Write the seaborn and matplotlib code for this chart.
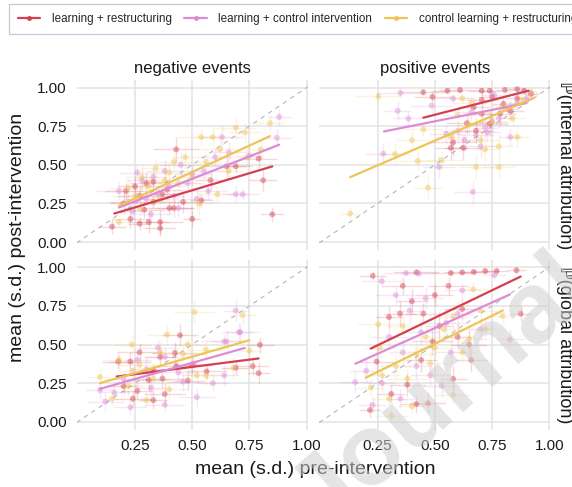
import matplotlib
matplotlib.use("Agg")
import matplotlib.pyplot as plt
from matplotlib.lines import Line2D
import pandas as pd
import seaborn as sns

groups = ["learning + restructuring", "learning + control intervention",
          "control learning + restructuring"]
colours = ["#d43f51", "#dd8bd4", "#eec454"]
events = ["negative events", "positive events"]
outcomes = ["\u2119(internal attribution)", "\u2119(global attribution)"]
x_ticks = [0.25, 0.5, 0.75, 1.0]
x_tick_labels = ["0.25", "0.50", "0.75", "1.00"]
y_ticks = [0.0, 0.25, 0.5, 0.75, 1.0]
y_tick_labels = ["0.00", "0.25", "0.50", "0.75", "1.00"]

# negative events, internal attribution
ni_lr_x = [0.15, 0.23, 0.27, 0.31, 0.36, 0.36, 0.50, 0.42, 0.40, 0.30, 0.33, 0.21, 0.46, 0.54,
           0.58, 0.43, 0.81, 0.85, 0.79, 0.69, 0.65, 0.37, 0.27, 0.25, 0.33, 0.39, 0.29, 0.20]
ni_lr_y = [0.10, 0.15, 0.12, 0.13, 0.09, 0.13, 0.15, 0.22, 0.22, 0.38, 0.39, 0.33, 0.26, 0.27,
           0.40, 0.60, 0.40, 0.18, 0.54, 0.49, 0.49, 0.31, 0.30, 0.36, 0.26, 0.34, 0.21, 0.25]
ni_lr_xsd = [0.06, 0.08, 0.05, 0.09, 0.07, 0.10, 0.04, 0.08, 0.11, 0.07, 0.06, 0.09, 0.08, 0.05,
             0.07, 0.10, 0.06, 0.05, 0.08, 0.07, 0.09, 0.06, 0.10, 0.08, 0.05, 0.07, 0.09, 0.06]
ni_lr_ysd = [0.05, 0.06, 0.04, 0.07, 0.05, 0.08, 0.05, 0.06, 0.04, 0.07, 0.06, 0.05, 0.07, 0.04,
             0.06, 0.08, 0.07, 0.05, 0.06, 0.04, 0.08, 0.05, 0.06, 0.07, 0.04, 0.06, 0.05, 0.07]
ni_lc_x = [0.18, 0.26, 0.72, 0.69, 0.63, 0.88, 0.87, 0.22, 0.28, 0.30, 0.33, 0.35, 0.38, 0.40,
           0.42, 0.45, 0.48, 0.50, 0.52, 0.55, 0.60, 0.66, 0.24, 0.32, 0.44, 0.57, 0.75]
ni_lc_y = [0.33, 0.45, 0.31, 0.31, 0.68, 0.81, 0.675, 0.26, 0.40, 0.28, 0.42, 0.31, 0.46, 0.36,
           0.30, 0.50, 0.38, 0.44, 0.28, 0.46, 0.55, 0.58, 0.20, 0.18, 0.22, 0.33, 0.56]
ni_lc_xsd = [0.10, 0.08, 0.07, 0.06, 0.09, 0.05, 0.06, 0.08, 0.07, 0.10, 0.06, 0.09, 0.08, 0.07,
             0.05, 0.09, 0.07, 0.08, 0.06, 0.10, 0.07, 0.08, 0.06, 0.09, 0.07, 0.08, 0.06]
ni_lc_ysd = [0.06, 0.05, 0.04, 0.06, 0.07, 0.05, 0.06, 0.05, 0.07, 0.04, 0.06, 0.05, 0.07, 0.06,
             0.04, 0.08, 0.05, 0.06, 0.07, 0.05, 0.06, 0.07, 0.05, 0.04, 0.06, 0.05, 0.07]
ni_cr_x = [0.84, 0.69, 0.73, 0.54, 0.59, 0.42, 0.18, 0.61, 0.53, 0.22, 0.25, 0.28, 0.31, 0.34,
           0.36, 0.38, 0.40, 0.44, 0.47, 0.50, 0.56, 0.62, 0.66, 0.74, 0.80, 0.27, 0.33]
ni_cr_y = [0.77, 0.74, 0.71, 0.68, 0.68, 0.52, 0.13, 0.31, 0.25, 0.35, 0.30, 0.42, 0.36, 0.48,
           0.28, 0.40, 0.45, 0.38, 0.55, 0.42, 0.52, 0.60, 0.46, 0.55, 0.60, 0.22, 0.26]
ni_cr_xsd = [0.06, 0.09, 0.07, 0.10, 0.08, 0.07, 0.05, 0.09, 0.06, 0.08, 0.10, 0.07, 0.09, 0.06,
             0.08, 0.11, 0.07, 0.09, 0.06, 0.08, 0.07, 0.09, 0.06, 0.08, 0.05, 0.07, 0.09]
ni_cr_ysd = [0.05, 0.07, 0.06, 0.05, 0.07, 0.06, 0.04, 0.05, 0.07, 0.06, 0.05, 0.07, 0.04, 0.06,
             0.05, 0.07, 0.06, 0.05, 0.08, 0.06, 0.05, 0.07, 0.06, 0.05, 0.06, 0.05, 0.04]

# positive events, internal attribution
pi_lr_x = [0.45, 0.49, 0.555, 0.61, 0.705, 0.74, 0.806, 0.86, 0.89, 0.705, 0.75, 0.80, 0.83,
           0.785, 0.74, 0.64, 0.58, 0.57, 0.625, 0.705, 0.86, 0.67, 0.92, 0.68]
pi_lr_y = [0.97, 0.94, 0.98, 0.985, 0.98, 0.98, 0.985, 0.99, 0.98, 0.92, 0.94, 0.895, 0.85,
           0.83, 0.766, 0.77, 0.645, 0.61, 0.61, 0.83, 0.93, 0.873, 0.96, 0.72]
pi_lr_xsd = [0.10, 0.08, 0.07, 0.09, 0.06, 0.05, 0.04, 0.04, 0.03, 0.07, 0.06, 0.05, 0.06, 0.07,
             0.08, 0.09, 0.10, 0.07, 0.08, 0.06, 0.05, 0.07, 0.03, 0.08]
pi_lr_ysd = [0.02, 0.03, 0.02, 0.02, 0.02, 0.02, 0.02, 0.01, 0.02, 0.04, 0.03, 0.05, 0.06, 0.07,
             0.08, 0.07, 0.09, 0.08, 0.07, 0.06, 0.04, 0.05, 0.03, 0.08]
pi_lc_x = [0.275, 0.35, 0.338, 0.385, 0.486, 0.518, 0.666, 0.60, 0.63, 0.68, 0.72, 0.75, 0.78,
           0.82, 0.86, 0.90, 0.70, 0.66, 0.58, 0.76, 0.92, 0.55, 0.83, 0.73]
pi_lc_y = [0.572, 0.966, 0.85, 0.80, 0.884, 0.486, 0.325, 0.72, 0.66, 0.69, 0.74, 0.78, 0.80,
           0.86, 0.90, 0.93, 0.62, 0.84, 0.93, 0.95, 0.96, 0.70, 0.68, 0.71]
pi_lc_xsd = [0.08, 0.10, 0.06, 0.07, 0.09, 0.07, 0.08, 0.07, 0.06, 0.08, 0.05, 0.07, 0.06, 0.05,
             0.04, 0.04, 0.07, 0.08, 0.09, 0.06, 0.03, 0.07, 0.05, 0.06]
pi_lc_ysd = [0.07, 0.03, 0.06, 0.05, 0.05, 0.07, 0.08, 0.06, 0.07, 0.05, 0.06, 0.05, 0.06, 0.04,
             0.04, 0.03, 0.07, 0.05, 0.03, 0.03, 0.02, 0.06, 0.05, 0.06]
pi_cr_x = [0.13, 0.253, 0.326, 0.425, 0.47, 0.68, 0.78, 0.53, 0.60, 0.65, 0.70, 0.72, 0.75,
           0.78, 0.80, 0.84, 0.88, 0.92, 0.66, 0.57, 0.62, 0.86, 0.45, 0.40]
pi_cr_y = [0.185, 0.944, 0.57, 0.525, 0.353, 0.486, 0.486, 0.53, 0.82, 0.76, 0.66, 0.60, 0.78,
           0.62, 0.88, 0.80, 0.92, 0.97, 0.90, 0.68, 0.93, 0.68, 0.73, 0.66]
pi_cr_xsd = [0.05, 0.10, 0.07, 0.09, 0.06, 0.08, 0.07, 0.10, 0.07, 0.06, 0.08, 0.05, 0.07, 0.06,
             0.05, 0.06, 0.04, 0.03, 0.08, 0.07, 0.06, 0.05, 0.08, 0.07]
pi_cr_ysd = [0.04, 0.03, 0.07, 0.06, 0.07, 0.08, 0.07, 0.06, 0.05, 0.06, 0.07, 0.08, 0.05, 0.07,
             0.04, 0.05, 0.03, 0.02, 0.04, 0.06, 0.03, 0.07, 0.05, 0.06]

# negative events, global attribution
ng_lr_x = [0.177, 0.23, 0.447, 0.796, 0.764, 0.79, 0.563, 0.50, 0.425, 0.36, 0.33, 0.37, 0.31,
           0.26, 0.33, 0.24, 0.38, 0.48, 0.20, 0.43, 0.27, 0.69]
ng_lr_y = [0.39, 0.39, 0.56, 0.498, 0.36, 0.315, 0.326, 0.37, 0.446, 0.42, 0.337, 0.28, 0.27,
           0.20, 0.14, 0.15, 0.18, 0.267, 0.23, 0.36, 0.45, 0.35]
ng_lr_xsd = [0.07, 0.09, 0.08, 0.06, 0.07, 0.05, 0.09, 0.08, 0.10, 0.07, 0.06, 0.09, 0.08, 0.07,
             0.06, 0.08, 0.09, 0.07, 0.06, 0.08, 0.10, 0.06]
ng_lr_ysd = [0.05, 0.06, 0.07, 0.05, 0.06, 0.07, 0.05, 0.06, 0.07, 0.05, 0.04, 0.06, 0.07, 0.05,
             0.06, 0.05, 0.07, 0.06, 0.05, 0.04, 0.06, 0.05]
ng_lc_x = [0.097, 0.12, 0.23, 0.38, 0.52, 0.59, 0.64, 0.71, 0.64, 0.65, 0.44, 0.51, 0.30, 0.26,
           0.35, 0.38, 0.16, 0.32, 0.69, 0.705, 0.20, 0.46]
ng_lc_y = [0.207, 0.13, 0.094, 0.11, 0.16, 0.25, 0.30, 0.58, 0.52, 0.52, 0.32, 0.37, 0.34, 0.40,
           0.48, 0.42, 0.19, 0.22, 0.72, 0.58, 0.28, 0.26]
ng_lc_xsd = [0.06, 0.08, 0.07, 0.09, 0.08, 0.07, 0.06, 0.08, 0.10, 0.07, 0.09, 0.08, 0.07, 0.06,
             0.09, 0.08, 0.07, 0.06, 0.05, 0.06, 0.08, 0.07]
ng_lc_ysd = [0.05, 0.06, 0.05, 0.04, 0.06, 0.05, 0.07, 0.06, 0.05, 0.07, 0.06, 0.05, 0.07, 0.06,
             0.05, 0.06, 0.04, 0.05, 0.07, 0.06, 0.05, 0.06]
ng_cr_x = [0.097, 0.236, 0.39, 0.48, 0.56, 0.68, 0.75, 0.56, 0.52, 0.40, 0.30, 0.22, 0.15, 0.27,
           0.36, 0.46, 0.24, 0.51, 0.72, 0.33, 0.18]
ng_cr_y = [0.29, 0.50, 0.565, 0.50, 0.467, 0.35, 0.46, 0.30, 0.30, 0.21, 0.14, 0.23, 0.15, 0.37,
           0.45, 0.44, 0.33, 0.71, 0.69, 0.28, 0.40]
ng_cr_xsd = [0.05, 0.08, 0.09, 0.07, 0.08, 0.06, 0.05, 0.09, 0.07, 0.08, 0.06, 0.07, 0.05, 0.09,
             0.08, 0.10, 0.07, 0.09, 0.06, 0.08, 0.07]
ng_cr_ysd = [0.05, 0.06, 0.07, 0.05, 0.06, 0.07, 0.05, 0.06, 0.05, 0.07, 0.05, 0.06, 0.04, 0.06,
             0.07, 0.05, 0.06, 0.08, 0.06, 0.05, 0.06]

# positive events, global attribution
pg_lr_x = [0.229, 0.42, 0.57, 0.62, 0.67, 0.72, 0.77, 0.857, 0.875, 0.217, 0.42, 0.47, 0.58,
           0.49, 0.50, 0.348, 0.30, 0.246, 0.36, 0.40, 0.45, 0.52, 0.60, 0.65, 0.56, 0.44, 0.38,
           0.31, 0.66, 0.62]
pg_lr_y = [0.945, 0.967, 0.963, 0.967, 0.97, 0.976, 0.976, 0.98, 0.70, 0.076, 0.115, 0.12,
           0.278, 0.52, 0.82, 0.70, 0.678, 0.39, 0.88, 0.78, 0.70, 0.62, 0.55, 0.50, 0.88, 0.40,
           0.24, 0.18, 0.40, 0.73]
pg_lr_xsd = [0.06, 0.10, 0.09, 0.08, 0.07, 0.06, 0.05, 0.04, 0.05, 0.05, 0.07, 0.08, 0.06, 0.09,
             0.08, 0.07, 0.06, 0.08, 0.09, 0.07, 0.08, 0.06, 0.07, 0.08, 0.09, 0.07, 0.08, 0.06,
             0.07, 0.08]
pg_lr_ysd = [0.03, 0.02, 0.02, 0.02, 0.02, 0.02, 0.02, 0.02, 0.05, 0.05, 0.06, 0.07, 0.08, 0.09,
             0.07, 0.08, 0.07, 0.09, 0.06, 0.08, 0.07, 0.09, 0.08, 0.09, 0.06, 0.08, 0.07, 0.06,
             0.08, 0.07]
pg_lc_x = [0.268, 0.374, 0.43, 0.828, 0.152, 0.229, 0.53, 0.33, 0.39, 0.46, 0.55, 0.60, 0.30,
           0.36, 0.42, 0.48, 0.27, 0.20, 0.62, 0.70, 0.57, 0.35, 0.76, 0.44]
pg_lc_y = [0.91, 0.963, 0.96, 0.533, 0.257, 0.109, 0.233, 0.82, 0.72, 0.80, 0.64, 0.70, 0.55,
           0.45, 0.36, 0.30, 0.25, 0.33, 0.85, 0.60, 0.45, 0.15, 0.95, 0.58]
pg_lc_xsd = [0.09, 0.10, 0.08, 0.06, 0.07, 0.06, 0.08, 0.09, 0.07, 0.08, 0.09, 0.07, 0.08, 0.06,
             0.07, 0.09, 0.06, 0.07, 0.08, 0.06, 0.07, 0.06, 0.05, 0.08]
pg_lc_ysd = [0.04, 0.02, 0.02, 0.06, 0.07, 0.05, 0.07, 0.06, 0.08, 0.07, 0.09, 0.08, 0.07, 0.08,
             0.09, 0.07, 0.06, 0.08, 0.05, 0.07, 0.08, 0.06, 0.03, 0.08]
pg_cr_x = [0.31, 0.58, 0.253, 0.36, 0.668, 0.796, 0.65, 0.22, 0.27, 0.33, 0.38, 0.42, 0.46,
           0.50, 0.54, 0.58, 0.62, 0.70, 0.30, 0.40, 0.26, 0.48, 0.72]
pg_cr_y = [0.04, 0.174, 0.63, 0.62, 0.858, 0.685, 0.537, 0.22, 0.30, 0.36, 0.28, 0.44, 0.55,
           0.48, 0.60, 0.68, 0.45, 0.72, 0.15, 0.10, 0.48, 0.38, 0.60]
pg_cr_xsd = [0.07, 0.08, 0.09, 0.07, 0.06, 0.05, 0.08, 0.06, 0.08, 0.07, 0.09, 0.08, 0.07, 0.09,
             0.08, 0.07, 0.06, 0.07, 0.08, 0.06, 0.07, 0.08, 0.06]
pg_cr_ysd = [0.04, 0.05, 0.07, 0.06, 0.05, 0.06, 0.07, 0.06, 0.07, 0.08, 0.06, 0.07, 0.08, 0.06,
             0.07, 0.08, 0.07, 0.06, 0.05, 0.04, 0.07, 0.08, 0.06]

# fitted regression lines (endpoints)
fit_event = ["negative events"] * 3 + ["positive events"] * 3 + ["negative events"] * 3 + ["positive events"] * 3
fit_outcome = [outcomes[0]] * 6 + [outcomes[1]] * 6
fit_group = groups * 4
fit_x0 = [0.16, 0.18, 0.18, 0.45, 0.278, 0.13, 0.17, 0.097, 0.097, 0.22, 0.153, 0.198]
fit_x1 = [0.85, 0.88, 0.84, 0.91, 0.90, 0.933, 0.79, 0.73, 0.75, 0.875, 0.828, 0.796]
fit_y0 = [0.185, 0.224, 0.235, 0.805, 0.716, 0.42, 0.293, 0.213, 0.25, 0.474, 0.376, 0.285]
fit_y1 = [0.49, 0.63, 0.686, 0.98, 0.90, 0.933, 0.41, 0.478, 0.528, 0.94, 0.824, 0.72]

panels = {
    (events[0], outcomes[0]): [(ni_lr_x, ni_lr_y, ni_lr_xsd, ni_lr_ysd), (ni_lc_x, ni_lc_y, ni_lc_xsd, ni_lc_ysd),
                               (ni_cr_x, ni_cr_y, ni_cr_xsd, ni_cr_ysd)],
    (events[1], outcomes[0]): [(pi_lr_x, pi_lr_y, pi_lr_xsd, pi_lr_ysd), (pi_lc_x, pi_lc_y, pi_lc_xsd, pi_lc_ysd),
                               (pi_cr_x, pi_cr_y, pi_cr_xsd, pi_cr_ysd)],
    (events[0], outcomes[1]): [(ng_lr_x, ng_lr_y, ng_lr_xsd, ng_lr_ysd), (ng_lc_x, ng_lc_y, ng_lc_xsd, ng_lc_ysd),
                               (ng_cr_x, ng_cr_y, ng_cr_xsd, ng_cr_ysd)],
    (events[1], outcomes[1]): [(pg_lr_x, pg_lr_y, pg_lr_xsd, pg_lr_ysd), (pg_lc_x, pg_lc_y, pg_lc_xsd, pg_lc_ysd),
                               (pg_cr_x, pg_cr_y, pg_cr_xsd, pg_cr_ysd)],
}

rows = []
for (ev, oc), series in panels.items():
    for grp, (xs, ys, xsd, ysd) in zip(groups, series):
        for a, b, c, d in zip(xs, ys, xsd, ysd):
            rows.append(dict(event=ev, outcome=oc, group=grp, pre=a, post=b, pre_sd=c, post_sd=d))
points = pd.DataFrame(rows)

fits = pd.DataFrame(dict(event=fit_event * 2, outcome=fit_outcome * 2, group=fit_group * 2,
                         pre=fit_x0 + fit_x1, post=fit_y0 + fit_y1))

sns.set_theme(style="white")
plt.rcParams["font.family"] = ["Liberation Sans", "DejaVu Sans"]
palette = dict(zip(groups, colours))

fig = plt.figure(figsize=(5.72, 4.87), dpi=100)
col_left = [0.1339, 0.5580]
row_bottom = [0.487, 0.118]
width, height = 0.4042, 0.349

for i, oc in enumerate(outcomes):
    for j, ev in enumerate(events):
        ax = fig.add_axes([col_left[j], row_bottom[i], width, height])
        sub = points[(points.event == ev) & (points.outcome == oc)]
        ax.axline((0, 0), (1, 1), color="#b5b5b5", ls=(0, (4, 4)), lw=0.8, zorder=1)
        for grp in groups:
            g = sub[sub.group == grp]
            ax.errorbar(g.pre, g.post, xerr=g.pre_sd, yerr=g.post_sd, fmt="none",
                        ecolor=palette[grp], alpha=0.2, elinewidth=1.0, zorder=2)
        sns.scatterplot(data=sub, x="pre", y="post", hue="group", palette=palette,
                        hue_order=groups, s=18, alpha=0.45, linewidth=0, legend=False,
                        ax=ax, zorder=3)
        f = fits[(fits.event == ev) & (fits.outcome == oc)]
        sns.lineplot(data=f, x="pre", y="post", hue="group", palette=palette,
                     hue_order=groups, lw=1.6, legend=False, ax=ax, zorder=4,
                     estimator=None, sort=True)
        ax.set_xlim(-0.005, 1.005)
        ax.set_ylim(-0.05, 1.05)
        ax.set_xticks(x_ticks)
        ax.set_yticks(y_ticks)
        ax.grid(True, color="#e3e3e3", lw=1.1, zorder=0)
        ax.set_axisbelow(True)
        for s in ax.spines.values():
            s.set_visible(False)
        ax.tick_params(length=0, labelsize=11, colors="#1a1a1a", pad=7)
        ax.set_xlabel("")
        ax.set_ylabel("")
        if i == 1:
            ax.set_xticklabels(x_tick_labels)
        else:
            ax.set_xticklabels([])
            ax.set_title(ev, fontsize=12, pad=5, color="#1a1a1a")
        if j == 0:
            ax.set_yticklabels(y_tick_labels)
        else:
            ax.set_yticklabels([])
            ax.text(1.063, 0.5, oc, transform=ax.transAxes, rotation=270, fontsize=13,
                    ha="center", va="center", color="#1a1a1a")

fig.text(0.552, 0.035, "mean (s.d.) pre-intervention", ha="center", va="center", fontsize=14,
         color="#1a1a1a")
fig.text(0.03, 0.513, "mean (s.d.) post-intervention", ha="center", va="center", fontsize=14,
         rotation=90, color="#1a1a1a")

handles = [Line2D([0], [0], color=c, lw=1.6, marker="o", markersize=2.5) for c in colours]
leg = fig.legend(handles, groups, loc="upper left", bbox_to_anchor=(9 / 572, 1 - 4 / 487),
                 ncol=3, frameon=True, fontsize=8.4, handlelength=1.9, handletextpad=1.0,
                 columnspacing=1.1, borderpad=0.75, borderaxespad=0, fancybox=False)
leg.get_frame().set_edgecolor("#aebfd3")
leg.get_frame().set_linewidth(0.9)

fig.text(1.09, 0.51, "Journal Pre-proof", fontsize=72, color="#cfcfcf", alpha=0.55,
         rotation=41, ha="center", va="center", fontweight="bold")

fig.savefig("out.png", dpi=100)
